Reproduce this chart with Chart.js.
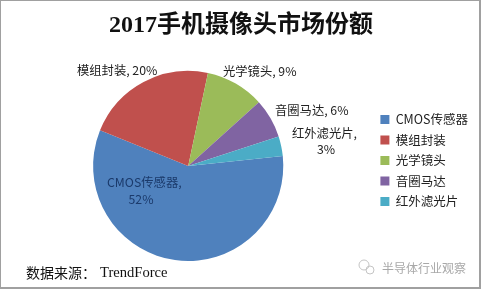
<!DOCTYPE html>
<html>
<head>
<meta charset="utf-8">
<style>
  html, body { margin: 0; padding: 0; background: #fff; }
  #wrap { position: relative; width: 481px; height: 289px; box-sizing: border-box; border: 1px solid #a0a0a0; border-width: 1px 2px 2px 1px; overflow: hidden; }
  canvas { position: absolute; left: -1px; top: -1px; }
</style>
<script src="https://cdn.jsdelivr.net/npm/chart.js@4/dist/chart.umd.min.js"></script>
</head>
<body>
<div id="wrap"><canvas id="pie" width="481" height="289"></canvas></div>
<script>
  const categories = ['CMOS传感器', '模组封装', '光学镜头', '音圈马达', '红外滤光片'];
  const shares = [52, 20, 9, 6, 3];
  const sliceColors = ['#4f81bd', '#c0504d', '#9bbb59', '#8064a2', '#4bacc6'];

  const cjk = '"Noto Sans CJK SC", "Noto Sans", sans-serif';

  // Text placed by hand: x, y of the name, then x, y of the value if it wraps
  const labelSpots = [
    [107, 182, 141, 199],
    [77, 70],
    [223, 71],
    [275, 110],
    [292, 133, 326, 149]
  ];

  const sliceLabels = {
    id: 'sliceLabels',
    afterDraw(chart) {
      const ctx = chart.ctx;
      ctx.save();
      ctx.textBaseline = 'middle';
      ctx.font = '12.3px ' + cjk;
      categories.forEach((name, i) => {
        const spot = labelSpots[i];
        ctx.fillStyle = i === 0 ? '#1b3a6b' : '#222';
        ctx.textAlign = 'left';
        if (spot.length > 2) {
          ctx.fillText(name + ',', spot[0], spot[1]);
          ctx.textAlign = 'center';
          ctx.fillText(shares[i] + '%', spot[2], spot[3]);
        } else {
          ctx.fillText(name + ', ' + shares[i] + '%', spot[0], spot[1]);
        }
      });

      // Source line
      ctx.textAlign = 'left';
      ctx.fillStyle = '#111';
      ctx.font = '14px ' + cjk;
      ctx.fillText('数据来源：', 26, 273);
      ctx.font = '14.6px "Liberation Serif", serif';
      ctx.fillText('TrendForce', 100, 273);

      // Watermark
      ctx.fillStyle = '#a8a8a8';
      ctx.font = '12px ' + cjk;
      ctx.fillText('半导体行业观察', 382, 268);
      ctx.strokeStyle = '#c4c4c4';
      ctx.lineWidth = 1;
      ctx.beginPath();
      ctx.arc(364, 265, 5, 0, Math.PI * 2);
      ctx.stroke();
      ctx.beginPath();
      ctx.arc(370, 270, 4, 0, Math.PI * 2);
      ctx.stroke();
      ctx.restore();
    }
  };

  // Legend box spans the full height, so push it down to its spot beside the pie
  const legendNudge = {
    id: 'legendNudge',
    afterLayout(chart) {
      chart.legend.top += 27;
      chart.legend.bottom += 27;
    }
  };

  new Chart(document.getElementById('pie'), {
    type: 'pie',
    data: {
      labels: categories,
      datasets: [{
        data: shares,
        backgroundColor: sliceColors,
        borderWidth: 0
      }]
    },
    options: {
      responsive: false,
      animation: false,
      rotation: 84,
      layout: { padding: { left: 4, right: 3, top: 6, bottom: 28 } },
      plugins: {
        tooltip: { enabled: false },
        title: {
          display: true,
          text: '2017手机摄像头市场份额',
          color: '#111',
          font: { family: '"Liberation Serif", "Noto Sans CJK SC", serif', size: 24, weight: 'bold' },
          padding: { top: 5, bottom: 31 }
        },
        legend: {
          position: 'right',
          labels: {
            boxWidth: 9,
            boxHeight: 9,
            padding: 8,
            color: '#222',
            font: { family: cjk, size: 12.5 }
          }
        }
      }
    },
    plugins: [legendNudge, sliceLabels]
  });
</script>
</body>
</html>
